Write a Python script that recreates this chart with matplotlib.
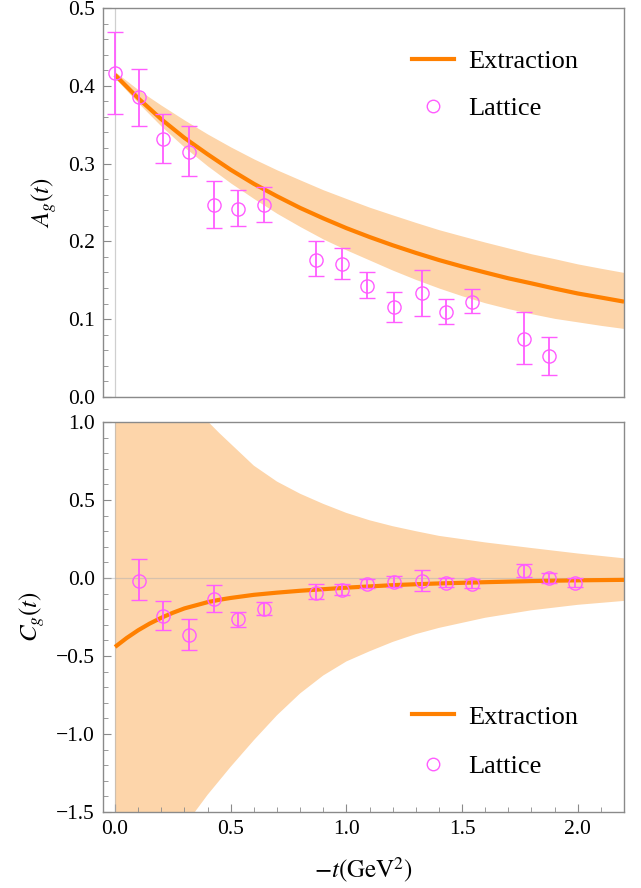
import numpy as np
import matplotlib
matplotlib.use('Agg')
import matplotlib.pyplot as plt
from matplotlib.ticker import MultipleLocator, FuncFormatter
from matplotlib.lines import Line2D

plt.rcParams['font.family'] = ['Liberation Serif', 'DejaVu Serif']
plt.rcParams['mathtext.fontset'] = 'stix'
plt.rcParams['axes.unicode_minus'] = True

# lattice points, A_g(t)
tA = [0.0, 0.104, 0.208, 0.32, 0.429, 0.532, 0.645, 0.87, 0.983, 1.087,
      1.205, 1.325, 1.429, 1.545, 1.766, 1.874]
A_val = [0.416, 0.386, 0.332, 0.315, 0.247, 0.242, 0.247, 0.176, 0.171, 0.143,
         0.116, 0.134, 0.109, 0.122, 0.075, 0.053]
A_hi = [0.469, 0.422, 0.364, 0.348, 0.278, 0.266, 0.270, 0.200, 0.191, 0.161,
        0.135, 0.163, 0.126, 0.139, 0.109, 0.077]
A_lo = [0.364, 0.348, 0.301, 0.284, 0.217, 0.220, 0.225, 0.155, 0.152, 0.127,
        0.096, 0.104, 0.094, 0.108, 0.042, 0.028]

# lattice points, C_g(t)
tC = [0.104, 0.208, 0.32, 0.429, 0.532, 0.645, 0.87, 0.983, 1.087, 1.205,
      1.325, 1.429, 1.545, 1.766, 1.874, 1.987]
C_val = [-0.017, -0.244, -0.365, -0.137, -0.265, -0.199, -0.094, -0.077, -0.038, -0.024,
         -0.019, -0.030, -0.038, 0.045, -0.002, -0.030]
C_hi = [0.120, -0.145, -0.263, -0.047, -0.216, -0.152, -0.040, -0.038, -0.008, 0.013,
        0.051, -0.002, -0.008, 0.088, 0.030, -0.002]
C_lo = [-0.140, -0.333, -0.460, -0.218, -0.312, -0.237, -0.137, -0.109, -0.066, -0.060,
        -0.083, -0.056, -0.066, 0.008, -0.034, -0.056]

# extraction curve and band for A_g
tA_fit = [0.0, 0.1, 0.2, 0.3, 0.4, 0.5, 0.6, 0.7, 0.8, 0.9, 1.0, 1.1,
          1.2, 1.3, 1.4, 1.5, 1.6, 1.7, 1.8, 1.9, 2.0, 2.1, 2.2]
A_fit = [0.414, 0.384, 0.357, 0.333, 0.312, 0.292, 0.274, 0.258, 0.243, 0.2296, 0.217, 0.2056,
         0.195, 0.1852, 0.176, 0.1677, 0.160, 0.1525, 0.146, 0.1393, 0.133, 0.1278, 0.1225]
A_up = [0.418, 0.395, 0.375, 0.356, 0.338, 0.3214, 0.306, 0.2919, 0.279, 0.2663, 0.255, 0.2439,
        0.234, 0.2243, 0.215, 0.2069, 0.199, 0.1915, 0.184, 0.1777, 0.171, 0.1654, 0.160]
A_dn = [0.410, 0.378, 0.348, 0.321, 0.297, 0.275, 0.255, 0.236, 0.219, 0.203, 0.189, 0.176,
        0.163, 0.151, 0.140, 0.130, 0.121, 0.1135, 0.107, 0.101, 0.0965, 0.092, 0.088]

# extraction curve and band for C_g
tC_fit = [0.0, 0.05, 0.1, 0.15, 0.2, 0.25, 0.3, 0.35, 0.4, 0.45, 0.5, 0.6, 0.7, 0.8,
          0.9, 1.0, 1.1, 1.2, 1.3, 1.4, 1.6, 1.8, 2.0, 2.2]
C_fit = [-0.442, -0.385, -0.335, -0.292, -0.255, -0.223, -0.195, -0.175, -0.155, -0.140,
         -0.128, -0.108, -0.094, -0.082, -0.072, -0.062, -0.054, -0.046, -0.040, -0.035,
         -0.027, -0.020, -0.015, -0.012]
C_up = [2.7, 2.3, 2.0, 1.8, 1.55, 1.4, 1.22, 1.1, 1.005, 0.93, 0.86, 0.72, 0.618, 0.54,
        0.475, 0.417, 0.37, 0.332, 0.300, 0.27, 0.228, 0.192, 0.157, 0.126]
C_dn = [-3.0, -2.75, -2.5, -2.25, -2.0, -1.8, -1.6, -1.49, -1.39, -1.30, -1.21, -1.04,
        -0.88, -0.74, -0.625, -0.535, -0.47, -0.41, -0.36, -0.32, -0.255, -0.207, -0.172, -0.147]

orange = '#FF8000'
band = '#FDD5AA'
magenta = '#FF5CFF'
frame = '#8a8a8a'

fig = plt.figure(figsize=(6.41, 8.88), dpi=100)
ax1 = fig.add_axes([0.1607, 0.553, 0.8128, 0.438])
ax2 = fig.add_axes([0.1607, 0.0856, 0.8128, 0.4392])

fmt = FuncFormatter(lambda v, p: f'{v:.1f}'.replace('-', '\u2212'))


def panel(ax, tpts, val, lo, hi, tfit, fit, up, dn):
    ax.fill_between(tfit, dn, up, color=band, lw=0, zorder=1)
    ax.axvline(0, color='#b0b0b0', lw=0.9, alpha=0.6, zorder=2)
    ax.axhline(0, color='#b0b0b0', lw=0.9, alpha=0.5, zorder=2)
    ax.plot(tfit, fit, color=orange, lw=3, zorder=3, solid_capstyle='butt')
    v = np.array(val)
    yerr = [v - np.array(lo), np.array(hi) - v]
    ax.errorbar(tpts, val, yerr=yerr, fmt='o', ms=9.5, mfc='none', mec=magenta,
                mew=1.0, ecolor=magenta, elinewidth=1.3, capsize=5.5, capthick=1.3,
                zorder=4)
    ax.set_xlim(-0.052, 2.2)
    for s in ax.spines.values():
        s.set_color(frame)
        s.set_linewidth(1.0)
    ax.tick_params(which='both', direction='in', color=frame, labelsize=15.5,
                   top=False, right=False)
    ax.tick_params(which='major', length=6, width=0.8, pad=6)
    ax.tick_params(which='minor', length=3.5, width=0.6)
    ax.yaxis.set_major_formatter(fmt)
    handles = [Line2D([], [], color=orange, lw=3),
               Line2D([], [], ls='none', marker='o', ms=9, mfc='none', mec=magenta, mew=1.0)]
    return handles


h = panel(ax1, tA, A_val, A_lo, A_hi, tA_fit, A_fit, A_up, A_dn)
ax1.set_ylim(0, 0.5)
ax1.yaxis.set_major_locator(MultipleLocator(0.1))
ax1.yaxis.set_minor_locator(MultipleLocator(0.02))
ax1.tick_params(axis='x', which='both', bottom=False, labelbottom=False)
ax1.set_ylabel(r'$A_g(t)$', fontsize=18, labelpad=6)
ax1.legend(h, ['Extraction', 'Lattice'], loc='upper right', frameon=False,
           fontsize=19, handlelength=1.6, handletextpad=0.55, labelspacing=0.9,
           bbox_to_anchor=(0.958, 0.954))

h = panel(ax2, tC, C_val, C_lo, C_hi, tC_fit, C_fit, C_up, C_dn)
ax2.set_ylim(-1.5, 1.0)
ax2.yaxis.set_major_locator(MultipleLocator(0.5))
ax2.yaxis.set_minor_locator(MultipleLocator(0.1))
ax2.xaxis.set_major_locator(MultipleLocator(0.5))
ax2.xaxis.set_minor_locator(MultipleLocator(0.1))
ax2.xaxis.set_major_formatter(fmt)
ax2.set_ylabel(r'$C_g(t)$', fontsize=18, labelpad=6)
ax2.set_xlabel(r'$-t(\mathrm{GeV}^2)$', fontsize=18, labelpad=12)
ax2.legend(h, ['Extraction', 'Lattice'], loc='lower right', frameon=False,
           fontsize=19, handlelength=1.6, handletextpad=0.55, labelspacing=1.0,
           bbox_to_anchor=(0.958, 0.025))

fig.savefig('out.png', dpi=100)
